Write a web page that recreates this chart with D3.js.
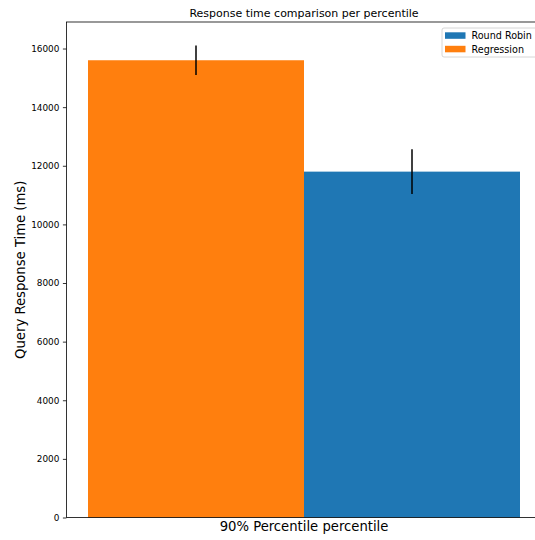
<!DOCTYPE html>
<html>
<head>
<meta charset="utf-8">
<script src="https://cdn.jsdelivr.net/npm/d3@7"></script>
<style>
  html, body { margin: 0; padding: 0; background: #fff; }
  svg { display: block; font-family: "DejaVu Sans", sans-serif; }
</style>
</head>
<body>
<svg id="chart" width="535" height="540"></svg>
<script>
// Series and their 90th percentile response times (ms) with error ranges
const seriesNames = ["Round Robin", "Regression"];
const seriesColors = ["#1f77b4", "#ff7f0e"];
const means = [11800, 15600];
const errors = [760, 500];
const barOffsets = [0.5, -0.5];   // in bar widths relative to the group centre
const yTicks = [0, 2000, 4000, 6000, 8000, 10000, 12000, 14000, 16000];
const groupLabel = "90% Percentile percentile";

const plotLeft = 66.4, plotRight = 541.6, plotTop = 22, plotBottom = 517.5;
const barW = 0.4;

const svg = d3.select("#chart");

const yMax = d3.max(means.map((m, i) => m + errors[i])) * 1.05;
const y = d3.scaleLinear().domain([0, yMax]).range([plotBottom, plotTop]);
const x = d3.scaleLinear().domain([-barW * 1.1, barW * 1.1]).range([plotLeft, plotRight]);

const data = seriesNames.map((name, i) => ({
  name, color: seriesColors[i], mean: means[i], err: errors[i], off: barOffsets[i]
}));

// bars
svg.append("g").selectAll("rect").data(data).join("rect")
  .attr("x", d => x(d.off * barW - barW / 2))
  .attr("width", d => x(barW / 2) - x(-barW / 2))
  .attr("y", d => y(d.mean))
  .attr("height", d => y(0) - y(d.mean))
  .attr("fill", d => d.color);

// error bars
svg.append("g").selectAll("line").data(data).join("line")
  .attr("x1", d => x(d.off * barW))
  .attr("x2", d => x(d.off * barW))
  .attr("y1", d => y(d.mean + d.err))
  .attr("y2", d => y(d.mean - d.err))
  .attr("stroke", "#000")
  .attr("stroke-width", 1.5);

// y axis
const yAxis = svg.append("g")
  .attr("transform", `translate(${plotLeft},0)`)
  .call(d3.axisLeft(y).tickValues(yTicks).tickSize(3.5).tickPadding(3.5).tickFormat(d3.format("d")));
yAxis.select(".domain").remove();
yAxis.selectAll(".tick line").attr("stroke", "#000").attr("stroke-width", 0.8);
yAxis.selectAll(".tick text").attr("font-size", 8.9).attr("fill", "#000")
  .attr("font-family", "DejaVu Sans, sans-serif");

// spines
svg.append("rect")
  .attr("x", plotLeft).attr("y", plotTop)
  .attr("width", plotRight - plotLeft).attr("height", plotBottom - plotTop)
  .attr("fill", "none").attr("stroke", "#000").attr("stroke-width", 0.8);

// title and labels
svg.append("text").attr("x", (plotLeft + plotRight) / 2).attr("y", 17)
  .attr("text-anchor", "middle").attr("font-size", 11).attr("fill", "#000")
  .text("Response time comparison per percentile");

svg.append("text").attr("x", x(0)).attr("y", 531)
  .attr("text-anchor", "middle").attr("font-size", 13.2).attr("fill", "#000")
  .text(groupLabel);

svg.append("text")
  .attr("transform", `translate(24.5,${(plotTop + plotBottom) / 2}) rotate(-90)`)
  .attr("text-anchor", "middle").attr("font-size", 13.2).attr("fill", "#000")
  .text("Query Response Time (ms)");

// legend
const lg = svg.append("g").attr("transform", "translate(442,28)");
lg.append("rect").attr("x", 0).attr("y", 0).attr("width", 110).attr("height", 29)
  .attr("rx", 2).attr("fill", "#fff").attr("fill-opacity", 0.8)
  .attr("stroke", "#cccccc").attr("stroke-width", 0.8);
const item = lg.selectAll("g.item").data(data).join("g")
  .attr("class", "item")
  .attr("transform", (d, i) => `translate(0,${4.3 + i * 13.5})`);
item.append("rect").attr("x", 3).attr("y", 0).attr("width", 20.5).attr("height", 6.5)
  .attr("fill", d => d.color);
item.append("text").attr("x", 29.5).attr("y", 7).attr("font-size", 9.6).attr("fill", "#000")
  .text(d => d.name);
</script>
</body>
</html>
